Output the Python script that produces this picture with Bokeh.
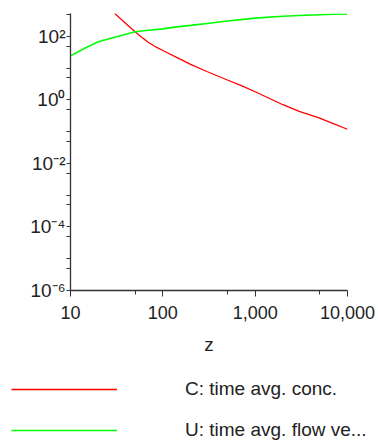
from bokeh.plotting import figure
from bokeh.layouts import column, row
from bokeh.models import (FixedTicker, CustomJSTickFormatter, Legend, LegendItem, Range1d)
from bokeh.embed import file_html
from bokeh.resources import INLINE

# ---- data ----
z_c = [30, 40, 50, 60, 70, 85, 100, 150, 200, 300, 500, 700, 1000, 2000, 3000, 5000, 7000, 10000]
c_vals = [537, 251, 141, 92, 64.6, 46, 36.3, 20, 13.2, 7.9, 4.27, 2.88, 1.82, 0.71, 0.44, 0.27, 0.18, 0.12]

z_u = [10, 15, 20, 30, 50, 70, 100, 150, 200, 300, 500, 700, 1000, 2000, 3000, 5000, 7000, 10000]
u_vals = [24.5, 46, 68, 95, 141, 158, 174, 204, 224, 257, 309, 339, 380, 432, 457, 484, 501, 513]

x_ticks = [10, 100, 1000, 10000]
x_tick_labels = ["10", "100", "1,000", "10,000"]
x_minor = [50, 500, 5000]

y_ticks = [1e-6, 1e-4, 1e-2, 1, 1e2]
y_tick_labels = ["10\u207b\u2076", "10\u207b\u2074", "10\u207b\u00b2", "10\u2070", "10\u00b2"]
y_minor = [5e-6, 1e-5, 5e-5, 5e-4, 1e-3, 5e-3, 5e-2, 1e-1, 5e-1, 5, 10, 50, 500]

series_labels = ["C: time avg. conc.", "U: time avg. flow ve..."]
series_colors = ["#ff0000", "#00ff00"]
x_label = "z"

FONT = "Liberation Sans"
TXT = "#222222"

p = figure(x_axis_type="log", y_axis_type="log",
           frame_width=277, frame_height=277,
           x_range=Range1d(10, 10000), y_range=Range1d(1e-6, 530),
           output_backend="svg", toolbar_location=None,
           min_border_left=70, min_border_top=13, min_border_right=28, min_border_bottom=75)
p.outline_line_color = None
p.xgrid.visible = False
p.ygrid.visible = False
p.background_fill_color = "white"
p.border_fill_color = "white"

p.line(z_c, c_vals, line_color=series_colors[0], line_width=1.3)
p.line(z_u, u_vals, line_color=series_colors[1], line_width=1.6)

xa = p.xaxis[0]
xa.ticker = FixedTicker(ticks=x_ticks, minor_ticks=x_minor)
xa.formatter = CustomJSTickFormatter(args=dict(labels=x_tick_labels),
    code="return labels[Math.round(Math.log10(tick)) - 1];")
xa.axis_label = x_label
xa.axis_label_text_font = FONT
xa.axis_label_text_font_style = "normal"
xa.axis_label_text_font_size = "19px"
xa.axis_label_text_color = TXT
xa.axis_label_standoff = 12
xa.major_label_text_font = FONT
xa.major_label_text_font_size = "18px"
xa.major_label_text_color = TXT
xa.major_label_standoff = 9
xa.major_tick_in = 0
xa.major_tick_out = 6
xa.minor_tick_in = 0
xa.minor_tick_out = 4
xa.axis_line_color = "#333333"
xa.major_tick_line_color = "#333333"
xa.minor_tick_line_color = "#333333"
xa.axis_line_width = 1.3

ya = p.yaxis[0]
ya.ticker = FixedTicker(ticks=y_ticks, minor_ticks=y_minor)
ya.formatter = CustomJSTickFormatter(args=dict(labels=y_tick_labels),
    code="return labels[(Math.round(Math.log10(tick)) + 6) / 2];")
ya.major_label_text_font = FONT
ya.major_label_text_font_size = "19px"
ya.major_label_text_color = TXT
ya.major_label_standoff = 1
ya.major_tick_in = 0
ya.major_tick_out = 4
ya.minor_tick_in = 0
ya.minor_tick_out = 4
ya.axis_line_color = "#333333"
ya.major_tick_line_color = "#333333"
ya.minor_tick_line_color = "#333333"
ya.axis_line_width = 1.3

# legend strip below the plot; its lines carry the same series, kept outside its view
pl = figure(width=375, height=79, x_range=Range1d(0, 1), y_range=Range1d(-1, 0),
            output_backend="svg", toolbar_location=None, min_border=0)
pl.axis.visible = False
pl.grid.visible = False
pl.outline_line_color = None
pl.border_fill_color = "white"
sw_c = pl.line(z_c, c_vals, line_color=series_colors[0], line_width=1.3)
sw_u = pl.line(z_u, u_vals, line_color=series_colors[1], line_width=1.6)

legend = Legend(items=[LegendItem(label=series_labels[0], renderers=[sw_c]),
                       LegendItem(label=series_labels[1], renderers=[sw_u])],
                location=(11, 3), orientation="vertical",
                glyph_width=106, glyph_height=20, label_height=20,
                label_standoff=68, spacing=19, padding=0, margin=0,
                border_line_color=None, background_fill_alpha=0,
                label_text_font=FONT, label_text_font_size="19px",
                label_text_color=TXT)
pl.add_layout(legend, "center")

layout = column(p, row(pl), spacing=0)
open("out.html", "w").write(file_html(layout, INLINE))
